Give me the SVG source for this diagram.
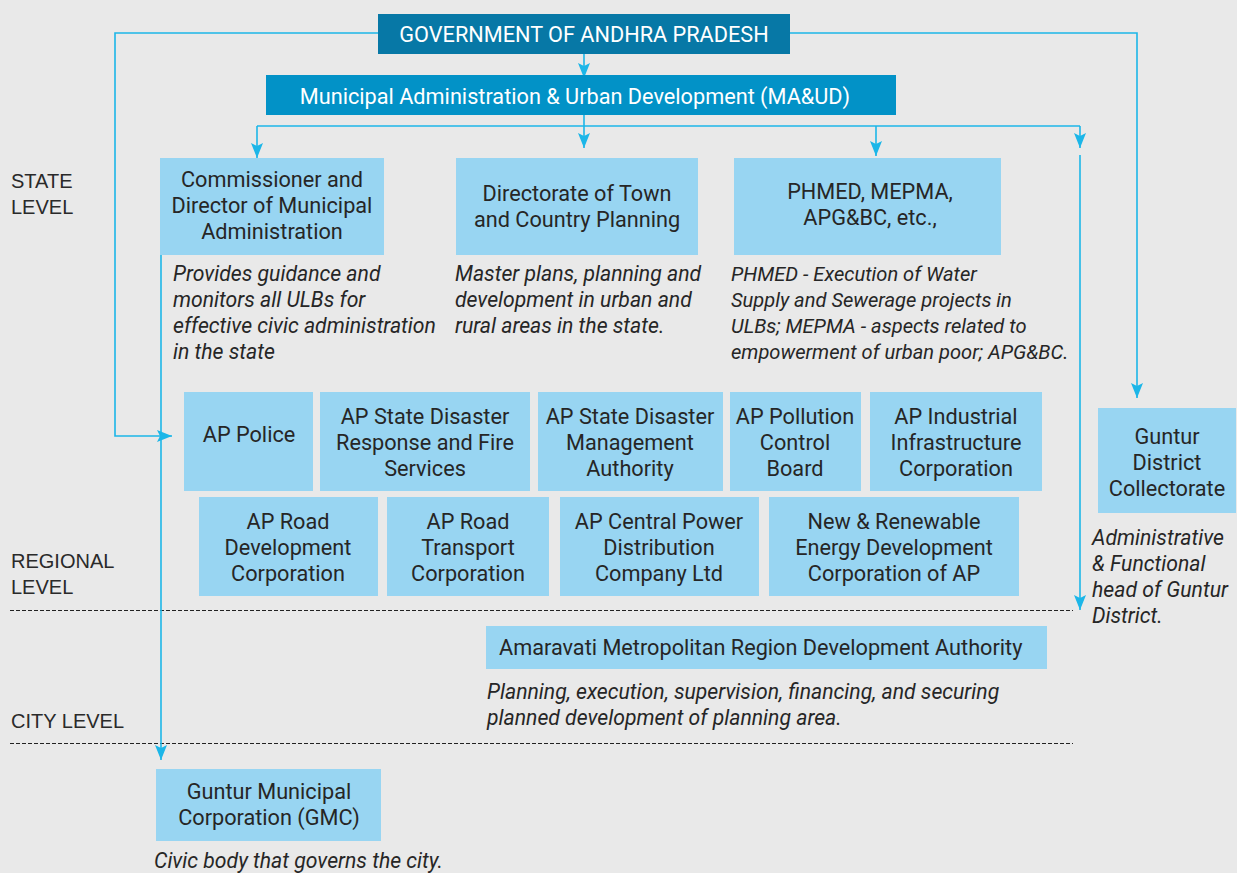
<svg xmlns="http://www.w3.org/2000/svg" width="1237" height="873" viewBox="0 0 1237 873">
<defs>
<style>
.bg{fill:#e9e9e9}
.box{fill:#98d5f2}
.t{font-family:Roboto,"Noto Sans",sans-serif;font-size:21.7px;fill:#262626;text-anchor:middle}
.tw{font-family:Roboto,"Noto Sans",sans-serif;font-size:21.7px;fill:#ffffff;text-anchor:middle}
.d{font-family:Roboto,"Noto Sans",sans-serif;font-size:21.2px;font-style:italic;fill:#262626}
.d2{font-family:Roboto,"Noto Sans",sans-serif;font-size:20.1px;font-style:italic;fill:#262626}
.lv{font-family:"Liberation Sans",Arial,sans-serif;font-size:20px;fill:#2a2a2a}
.c{fill:none;stroke:#1cb6e8;stroke-width:1.6}
.dash{fill:none;stroke:#222222;stroke-width:1;stroke-dasharray:4 2}
</style>
<marker id="ah" viewBox="0 0 15 12" refX="15" refY="6" markerWidth="15" markerHeight="12" markerUnits="userSpaceOnUse" orient="auto">
<path d="M0,0 L15,6 L0,12 L3,6 z" fill="#1cb6e8"/>
</marker>
</defs>
<rect class="bg" x="0" y="0" width="1237" height="873"/>

<g id="levels">
<text class="lv" x="11" y="188">STATE</text>
<text class="lv" x="11" y="214">LEVEL</text>
<text class="lv" x="11" y="568">REGIONAL</text>
<text class="lv" x="11" y="594">LEVEL</text>
<text class="lv" x="11" y="728">CITY LEVEL</text>
<line class="dash" x1="10" y1="610.5" x2="1073" y2="610.5"/>
<line class="dash" x1="10" y1="743.5" x2="1073" y2="743.5"/>
</g>

<g id="connectors">
<path class="c" d="M584,53 V78" marker-end="url(#ah)"/>
<path class="c" d="M378,33 H115 V436 H172" marker-end="url(#ah)"/>
<path class="c" d="M790,33 H1137 V398" marker-end="url(#ah)"/>
<path class="c" d="M584,115 V148" marker-end="url(#ah)"/>
<path class="c" d="M257,126 H1080"/>
<path class="c" d="M257,126 V158" marker-end="url(#ah)"/>
<path class="c" d="M876,126 V156" marker-end="url(#ah)"/>
<path class="c" d="M1080,126 V148" marker-end="url(#ah)"/>
<path class="c" d="M1080,155 V610" marker-end="url(#ah)"/>
<path class="c" d="M161,223 V760" marker-end="url(#ah)"/>
</g>

<g id="gov">
<rect x="378" y="14" width="412" height="40" fill="#0778a6"/>
<text class="tw" x="584" y="42">GOVERNMENT OF ANDHRA PRADESH</text>
</g>
<g id="maud">
<rect x="266" y="75" width="630" height="40" fill="#0292c7"/>
<text class="tw" x="575" y="104">Municipal Administration &amp; Urban Development (MA&amp;UD)</text>
</g>

<g id="cdma">
<rect class="box" x="160" y="158" width="224" height="97"/>
<text class="t" x="272" y="187">Commissioner and</text>
<text class="t" x="272" y="213">Director of Municipal</text>
<text class="t" x="272" y="239">Administration</text>
<text class="d" x="173" y="281">Provides guidance and</text>
<text class="d" x="173" y="307">monitors all ULBs for</text>
<text class="d" x="173" y="333">effective civic administration</text>
<text class="d" x="173" y="359">in the state</text>
</g>
<g id="dtcp">
<rect class="box" x="456" y="158" width="242" height="97"/>
<text class="t" x="577" y="201">Directorate of Town</text>
<text class="t" x="577" y="227">and Country Planning</text>
<text class="d" x="455" y="281">Master plans, planning and</text>
<text class="d" x="455" y="307">development in urban and</text>
<text class="d" x="455" y="333">rural areas in the state.</text>
</g>
<g id="phmed">
<rect class="box" x="734" y="158" width="267" height="97"/>
<text class="t" x="870" y="199">PHMED, MEPMA,</text>
<text class="t" x="870" y="225">APG&amp;BC, etc.,</text>
<text class="d2" x="731" y="281">PHMED - Execution of Water</text>
<text class="d2" x="731" y="307">Supply and Sewerage projects in</text>
<text class="d2" x="731" y="333">ULBs; MEPMA - aspects related to</text>
<text class="d2" x="731" y="359">empowerment of urban poor; APG&amp;BC.</text>
</g>

<g id="ap-police">
<rect class="box" x="184" y="392" width="129" height="99"/>
<text class="t" x="249" y="442">AP Police</text>
</g>
<g id="ap-sdrfs">
<rect class="box" x="320" y="392" width="210" height="99"/>
<text class="t" x="425" y="424">AP State Disaster</text>
<text class="t" x="425" y="450">Response and Fire</text>
<text class="t" x="425" y="476">Services</text>
</g>
<g id="ap-sdma">
<rect class="box" x="538" y="392" width="185" height="99"/>
<text class="t" x="630" y="424">AP State Disaster</text>
<text class="t" x="630" y="450">Management</text>
<text class="t" x="630" y="476">Authority</text>
</g>
<g id="ap-pcb">
<rect class="box" x="730" y="392" width="131" height="99"/>
<text class="t" x="795" y="424">AP Pollution</text>
<text class="t" x="795" y="450">Control</text>
<text class="t" x="795" y="476">Board</text>
</g>
<g id="ap-iic">
<rect class="box" x="870" y="392" width="172" height="99"/>
<text class="t" x="956" y="424">AP Industrial</text>
<text class="t" x="956" y="450">Infrastructure</text>
<text class="t" x="956" y="476">Corporation</text>
</g>

<g id="ap-rdc">
<rect class="box" x="199" y="497" width="179" height="99"/>
<text class="t" x="288" y="529">AP Road</text>
<text class="t" x="288" y="555">Development</text>
<text class="t" x="288" y="581">Corporation</text>
</g>
<g id="ap-rtc">
<rect class="box" x="387" y="497" width="162" height="99"/>
<text class="t" x="468" y="529">AP Road</text>
<text class="t" x="468" y="555">Transport</text>
<text class="t" x="468" y="581">Corporation</text>
</g>
<g id="ap-cpdcl">
<rect class="box" x="560" y="497" width="199" height="99"/>
<text class="t" x="659" y="529">AP Central Power</text>
<text class="t" x="659" y="555">Distribution</text>
<text class="t" x="659" y="581">Company Ltd</text>
</g>
<g id="nredcap">
<rect class="box" x="769" y="497" width="250" height="99"/>
<text class="t" x="894" y="529">New &amp; Renewable</text>
<text class="t" x="894" y="555">Energy Development</text>
<text class="t" x="894" y="581">Corporation of AP</text>
</g>

<g id="collectorate">
<rect class="box" x="1098" y="408" width="138" height="105"/>
<text class="t" x="1167" y="444">Guntur</text>
<text class="t" x="1167" y="470">District</text>
<text class="t" x="1167" y="496">Collectorate</text>
<text class="d" x="1092" y="545">Administrative</text>
<text class="d" x="1092" y="571">&amp; Functional</text>
<text class="d" x="1092" y="597">head of Guntur</text>
<text class="d" x="1092" y="623">District.</text>
</g>

<g id="amrda">
<rect class="box" x="486" y="626" width="561" height="43"/>
<text class="t" x="499" y="655" style="text-anchor:start">Amaravati Metropolitan Region Development Authority</text>
<text class="d" x="487" y="699">Planning, execution, supervision, financing, and securing</text>
<text class="d" x="487" y="725">planned development of planning area.</text>
</g>

<g id="gmc">
<rect class="box" x="156" y="769" width="225" height="72"/>
<text class="t" x="269" y="799">Guntur Municipal</text>
<text class="t" x="269" y="825">Corporation (GMC)</text>
<text class="d" x="154" y="868">Civic body that governs the city.</text>
</g>
</svg>
